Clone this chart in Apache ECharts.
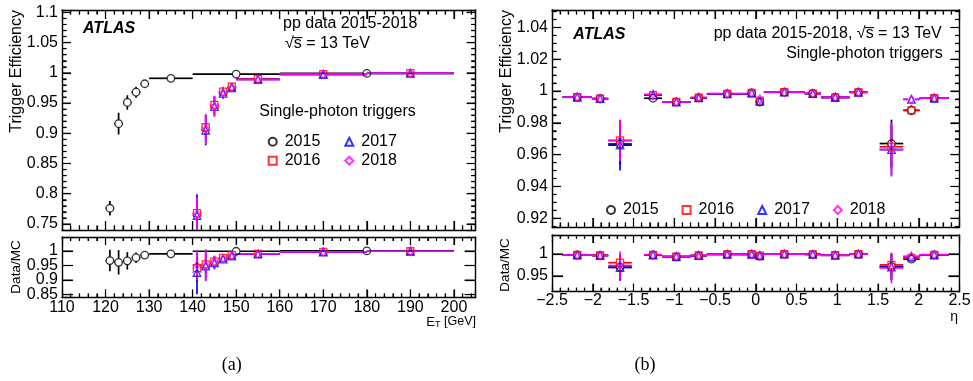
<!DOCTYPE html>
<html><head><meta charset="utf-8">
<script src="https://cdn.jsdelivr.net/npm/echarts@6/dist/echarts.min.js"></script>
<style>html,body{margin:0;padding:0;background:#fff}#c{width:973px;height:381px}</style>
</head><body><div id="c"></div><script>
// ================= DATA =================
// ---- Panel (a): efficiency vs E_T ----
const et2015Center = [121, 123, 125, 127, 129, 135, 150, 180];
const et2015Low    = [120, 122, 124, 126, 128, 130, 140, 160];
const et2015High   = [122, 124, 126, 128, 130, 140, 160, 200];
const eff2015Et    = [0.776, 0.916, 0.951, 0.968, 0.982, 0.991, 0.998, 0.999];
const eff2015EtErr = [0.012, 0.018, 0.012, 0.009, 0.005, 0.002, 0.001, 0.001];
const rat2015Et    = [0.967, 0.961, 0.966, 0.977, 0.986, 0.990, 0.999, 1.000];
const rat2015EtErr = [0.037, 0.042, 0.030, 0.018, 0.010, 0.004, 0.002, 0.001];

const etCenter = [141, 143, 145, 147, 149, 155, 170, 190];
const etLow    = [140, 142, 144, 146, 148, 150, 160, 180];
const etHigh   = [142, 144, 146, 148, 150, 160, 180, 200];
const eff2016Et = [0.768, 0.910, 0.947, 0.969, 0.977, 0.990, 0.998, 0.9995];
const eff2017Et = [0.764, 0.905, 0.944, 0.966, 0.975, 0.989, 0.997, 0.999];
const eff2018Et = [0.766, 0.907, 0.945, 0.967, 0.976, 0.989, 0.998, 0.9995];
const eff2016EtErr = [0.022, 0.020, 0.015, 0.008, 0.006, 0.002, 0.001, 0.001];
const eff2017EtErr = [0.035, 0.025, 0.016, 0.009, 0.006, 0.002, 0.001, 0.001];
const eff2018EtErr = [0.028, 0.025, 0.017, 0.009, 0.006, 0.002, 0.001, 0.001];
const rat2016Et = [0.941, 0.954, 0.963, 0.976, 0.986, 0.990, 0.997, 0.999];
const rat2017Et = [0.926, 0.948, 0.959, 0.972, 0.982, 0.989, 0.996, 0.999];
const rat2018Et = [0.951, 0.951, 0.962, 0.974, 0.984, 0.990, 0.997, 0.999];
const rat2016EtErr = [0.045, 0.035, 0.020, 0.012, 0.008, 0.003, 0.002, 0.001];
const rat2017EtErr = [0.075, 0.050, 0.022, 0.013, 0.008, 0.003, 0.002, 0.001];
const rat2018EtErr = [0.050, 0.055, 0.022, 0.012, 0.008, 0.003, 0.002, 0.001];

// ---- Panel (b): efficiency vs eta ----
const etaLow    = [-2.37, -2.01, -1.81, -1.37, -1.15, -0.8, -0.6, -0.1, 0, 0.1, 0.6, 0.8, 1.15, 1.52, 1.81, 2.01];
const etaHigh   = [-2.01, -1.81, -1.52, -1.15, -0.8, -0.6, -0.1, 0, 0.1, 0.6, 0.8, 1.15, 1.37, 1.81, 2.01, 2.37];
const etaCenter = [-2.19, -1.91, -1.665, -1.26, -0.975, -0.7, -0.35, -0.05, 0.05, 0.35, 0.7, 0.975, 1.26, 1.665, 1.91, 2.19];
const eff2015Eta = [0.9962, 0.9952, 0.9667, 0.9955, 0.9932, 0.9958, 0.9982, 0.9988, 0.9930, 0.9993, 0.9985, 0.9962, 0.9993, 0.9670, 0.9879, 0.9956];
const eff2016Eta = [0.9962, 0.9953, 0.9690, 0.9975, 0.9932, 0.9958, 0.9983, 0.9988, 0.9940, 0.9993, 0.9984, 0.9958, 0.9992, 0.9650, 0.9879, 0.9956];
const eff2017Eta = [0.9961, 0.9952, 0.9660, 0.9975, 0.9930, 0.9957, 0.9983, 0.9988, 0.9935, 0.9993, 0.9984, 0.9960, 0.9992, 0.9632, 0.9948, 0.9955];
const eff2018Eta = [0.9962, 0.9950, 0.9688, 0.9980, 0.9932, 0.9960, 0.9984, 0.9989, 0.9950, 0.9994, 0.9985, 0.9962, 0.9993, 0.9632, 0.9948, 0.9956];
const eff2015EtaErr = [0.0006, 0.0008, 0.013, 0.0008, 0.0006, 0.0006, 0.0004, 0.0006, 0.0008, 0.0004, 0.0005, 0.0005, 0.0006, 0.015, 0.003, 0.0006];
const eff2016EtaErr = [0.0006, 0.0008, 0.012, 0.0008, 0.0006, 0.0006, 0.0004, 0.0006, 0.0008, 0.0004, 0.0005, 0.0005, 0.0006, 0.013, 0.003, 0.0006];
const eff2017EtaErr = [0.0006, 0.0008, 0.016, 0.0008, 0.0006, 0.0006, 0.0004, 0.0006, 0.0008, 0.0004, 0.0005, 0.0005, 0.0006, 0.016, 0.001, 0.0006];
const eff2018EtaErr = [0.0006, 0.0008, 0.013, 0.0008, 0.0006, 0.0006, 0.0004, 0.0006, 0.0008, 0.0004, 0.0005, 0.0005, 0.0006, 0.017, 0.001, 0.0006];
const rat2015Eta = [0.9975, 0.9965, 0.970, 0.9975, 0.994, 0.996, 0.999, 0.9993, 0.995, 0.9995, 0.999, 0.997, 0.9995, 0.971, 0.988, 0.998];
const rat2016Eta = [0.9975, 0.9968, 0.980, 0.998, 0.994, 0.9965, 0.999, 0.9995, 0.996, 0.9995, 0.999, 0.997, 0.9995, 0.975, 0.991, 0.998];
const rat2017Eta = [0.9972, 0.9962, 0.969, 0.9975, 0.9935, 0.996, 0.999, 0.999, 0.9955, 0.9995, 0.999, 0.9968, 0.9995, 0.970, 0.994, 0.9975];
const rat2018Eta = [0.9975, 0.9965, 0.9735, 0.998, 0.994, 0.9965, 0.999, 0.9995, 0.9965, 0.9995, 0.999, 0.997, 0.9995, 0.968, 0.994, 0.998];
const rat2015EtaErr = [0.001, 0.001, 0.030, 0.001, 0.001, 0.001, 0.001, 0.001, 0.001, 0.001, 0.001, 0.001, 0.001, 0.030, 0.008, 0.001];
const rat2016EtaErr = [0.001, 0.001, 0.020, 0.001, 0.001, 0.001, 0.001, 0.001, 0.001, 0.001, 0.001, 0.001, 0.001, 0.025, 0.008, 0.001];
const rat2017EtaErr = [0.001, 0.001, 0.030, 0.001, 0.001, 0.001, 0.001, 0.001, 0.001, 0.001, 0.001, 0.001, 0.001, 0.030, 0.004, 0.001];
const rat2018EtaErr = [0.001, 0.001, 0.032, 0.001, 0.001, 0.001, 0.001, 0.001, 0.001, 0.001, 0.001, 0.001, 0.001, 0.035, 0.004, 0.001];

// ---- tick labels ----
const etTicks      = [110, 120, 130, 140, 150, 160, 170, 180, 190, 200];
const effTicksA    = [0.75, 0.8, 0.85, 0.9, 0.95, 1, 1.05, 1.1];
const ratioTicksA  = [0.85, 0.9, 0.95, 1];
const etaTicks     = [-2.5, -2, -1.5, -1, -0.5, 0, 0.5, 1, 1.5, 2, 2.5];
const effTicksB    = [0.92, 0.94, 0.96, 0.98, 1, 1.02, 1.04];
const ratioTicksB  = [0.95, 1];
const years = ['2015', '2016', '2017', '2018'];

// ================= STYLE / LAYOUT =================
const FONT = 'Liberation Sans, Arial, Helvetica, sans-serif';
const yearStyle = {
  '2015': { color: '#000000', symbol: 'circle', size: 7.5 },
  '2016': { color: '#ff0000', symbol: 'rect', size: 7 },
  '2017': { color: '#0000ff', symbol: 'triangle', size: 7.5 },
  '2018': { color: '#ff00ff', symbol: 'diamond', size: [5.5, 8.5] }
};
function steps(a, b, s) {
  const out = []; const n = Math.round((b - a) / s);
  for (let i = 0; i <= n; i++) out.push(+(a + i * s).toFixed(6));
  return out;
}
const grids = [
  { left: 62, top: 10, width: 413.7, height: 220 },
  { left: 62, top: 237, width: 413.7, height: 60.5 },
  { left: 552, top: 10, width: 407.5, height: 217 },
  { left: 552, top: 235, width: 407.5, height: 56.7 }
];
const axisDefs = [
  { x: { min: 110, max: 205, split: 9, minorSplit: 5, major: etTicks, minor: steps(110, 204, 2), labels: false, majLen: 9, minLen: 4.5 },
    y: { min: 0.74, max: 1.104, split: 7, minorSplit: 5, major: effTicksA, minor: steps(0.74, 1.1, 0.01), labels: true, majLen: 9, minLen: 4.5, margin: 4 } },
  { x: { min: 110, max: 205, split: 9, minorSplit: 5, major: etTicks, minor: steps(110, 204, 2), labels: true, majLen: 8, minLen: 4, margin: 4.5 },
    y: { min: 0.84, max: 1.048, split: 4, minorSplit: 0, major: ratioTicksA, minor: [], labels: true, majLen: 11, minLen: 0, margin: 4 } },
  { x: { min: -2.5, max: 2.5, split: 10, minorSplit: 5, major: etaTicks, minor: steps(-2.5, 2.5, 0.1), labels: false, majLen: 9, minLen: 4.5 },
    y: { min: 0.9145, max: 1.051, split: 7, minorSplit: 4, major: effTicksB, minor: steps(0.915, 1.05, 0.005), labels: true, majLen: 9, minLen: 4.5, margin: 4 } },
  { x: { min: -2.5, max: 2.5, split: 10, minorSplit: 5, major: etaTicks, minor: steps(-2.5, 2.5, 0.1), labels: true, majLen: 8, minLen: 4, margin: 3 },
    y: { min: 0.914, max: 1.043, split: 3, minorSplit: 0, major: ratioTicksB, minor: [], labels: true, majLen: 11, minLen: 0, margin: 4 } }
];
const near = (a, list) => list.some(b => Math.abs(a - b) < 1e-7);

const xAxes = [], yAxes = [], mainX = [], mainY = [];
function mkAxis(gi, pos, r, showLabel) {
  return {
    type: 'value', gridIndex: gi, position: pos, min: r.min, max: r.max, splitNumber: r.split,
    axisLine: { show: true, onZero: false, lineStyle: { color: '#000', width: 1.4 } },
    axisTick: { show: true, inside: true, length: r.majLen, lineStyle: { color: '#000', width: 1.2 } },
    minorTick: { show: r.minorSplit > 0, splitNumber: r.minorSplit || 5, length: r.minLen,
      lineStyle: { color: '#000', width: 1.2 } },
    axisLabel: { show: showLabel, interval: 0, hideOverlap: false, showMinLabel: true, showMaxLabel: true,
      formatter: v => near(v, r.major) ? String(+v.toFixed(4)).replace('-', '\u2212') : '',
      margin: r.margin || 4, color: '#000', fontFamily: FONT, fontSize: 16, lineHeight: 11 },
    splitLine: { show: false }, minorSplitLine: { show: false }, axisPointer: { show: false }
  };
}
axisDefs.forEach((d, gi) => {
  mainX.push(xAxes.length);
  xAxes.push(mkAxis(gi, 'bottom', d.x, d.x.labels));
  xAxes.push(mkAxis(gi, 'top', d.x, false));
  mainY.push(yAxes.length);
  yAxes.push(mkAxis(gi, 'left', d.y, d.y.labels));
  yAxes.push(mkAxis(gi, 'right', d.y, false));
});

const series = [];
// ---- frame ticks drawn through the axes' own scales (rect marks) ----
axisDefs.forEach((d, gi) => {
  const items = [];
  d.x.major.forEach(v => items.push([0, v, d.x.majLen]));
  d.x.minor.filter(v => !near(v, d.x.major)).forEach(v => items.push([0, v, d.x.minLen]));
  d.y.major.forEach(v => items.push([1, v, d.y.majLen]));
  d.y.minor.filter(v => !near(v, d.y.major)).forEach(v => items.push([1, v, d.y.minLen]));
  series.push({
    type: 'custom', name: 'ticks' + gi, xAxisIndex: mainX[gi], yAxisIndex: mainY[gi], silent: true,
    clip: false, z: 5,
    renderItem: function (params, api) {
      const cs = params.coordSys;
      const kind = api.value(0), v = api.value(1), len = api.value(2);
      const st = { fill: '#000' };
      if (kind === 0) {
        const px = api.coord([v, d.y.min])[0];
        if (px < cs.x + 1 || px > cs.x + cs.width - 1) return null;
        return { type: 'group', children: [
          { type: 'rect', shape: { x: px - 0.5, y: cs.y + cs.height - len, width: 1, height: len }, style: st },
          { type: 'rect', shape: { x: px - 0.5, y: cs.y, width: 1, height: len }, style: st } ] };
      }
      const py = api.coord([d.x.min, v])[1];
      if (py < cs.y + 1 || py > cs.y + cs.height - 1) return null;
      return { type: 'group', children: [
        { type: 'rect', shape: { x: cs.x, y: py - 0.5, width: len, height: 1 }, style: st },
        { type: 'rect', shape: { x: cs.x + cs.width - len, y: py - 0.5, width: len, height: 1 }, style: st } ] };
    },
    data: items
  });
});

function errRender(color, gap) {
  return function (params, api) {
    const cs = params.coordSys;
    const X0 = cs.x, X1 = cs.x + cs.width, Y0 = cs.y, Y1 = cs.y + cs.height;
    const cx = api.value(0), lo = api.value(1), hi = api.value(2), v = api.value(3), e = api.value(4);
    const c = api.coord([cx, v]);
    const L = Math.max(X0, api.coord([lo, v])[0]), R = Math.min(X1, api.coord([hi, v])[0]);
    const T = Math.max(Y0, api.coord([cx, v + e])[1]), B = Math.min(Y1, api.coord([cx, v - e])[1]);
    const segs = [];
    if (c[0] - gap > L) segs.push([L, c[1], c[0] - gap, c[1]]);
    if (R > c[0] + gap) segs.push([c[0] + gap, c[1], R, c[1]]);
    if (c[1] - gap > T) segs.push([c[0], T, c[0], c[1] - gap]);
    if (B > c[1] + gap) segs.push([c[0], c[1] + gap, c[0], B]);
    return { type: 'group', children: segs.map(s => ({
      type: 'line', shape: { x1: s[0], y1: s[1], x2: s[2], y2: s[3] },
      style: { stroke: color, lineWidth: 1.7 } })) };
  };
}
function addYear(gi, year, centers, lows, highs, vals, errs) {
  const st = yearStyle[year];
  series.push({
    type: 'custom', name: year + ' err', xAxisIndex: mainX[gi], yAxisIndex: mainY[gi], silent: true,
    renderItem: errRender(st.color, 3.8), encode: { x: 0, y: 3 },
    data: centers.map((c, i) => [c, lows[i], highs[i], vals[i], errs[i]])
  });
  series.push({
    type: 'scatter', name: year, xAxisIndex: mainX[gi], yAxisIndex: mainY[gi], silent: true,
    symbol: st.symbol, symbolSize: st.size,
    itemStyle: { color: 'rgba(255,255,255,0)', borderColor: st.color, borderWidth: 1.3 },
    emphasis: { disabled: true },
    data: centers.map((c, i) => [c, vals[i]])
  });
}
// Panel (a)
addYear(0, '2015', et2015Center, et2015Low, et2015High, eff2015Et, eff2015EtErr);
addYear(0, '2016', etCenter, etLow, etHigh, eff2016Et, eff2016EtErr);
addYear(0, '2017', etCenter, etLow, etHigh, eff2017Et, eff2017EtErr);
addYear(0, '2018', etCenter, etLow, etHigh, eff2018Et, eff2018EtErr);
addYear(1, '2015', et2015Center, et2015Low, et2015High, rat2015Et, rat2015EtErr);
addYear(1, '2016', etCenter, etLow, etHigh, rat2016Et, rat2016EtErr);
addYear(1, '2017', etCenter, etLow, etHigh, rat2017Et, rat2017EtErr);
addYear(1, '2018', etCenter, etLow, etHigh, rat2018Et, rat2018EtErr);
// Panel (b)
addYear(2, '2015', etaCenter, etaLow, etaHigh, eff2015Eta, eff2015EtaErr);
addYear(2, '2016', etaCenter, etaLow, etaHigh, eff2016Eta, eff2016EtaErr);
addYear(2, '2017', etaCenter, etaLow, etaHigh, eff2017Eta, eff2017EtaErr);
addYear(2, '2018', etaCenter, etaLow, etaHigh, eff2018Eta, eff2018EtaErr);
addYear(3, '2015', etaCenter, etaLow, etaHigh, rat2015Eta, rat2015EtaErr);
addYear(3, '2016', etaCenter, etaLow, etaHigh, rat2016Eta, rat2016EtaErr);
addYear(3, '2017', etaCenter, etaLow, etaHigh, rat2017Eta, rat2017EtaErr);
addYear(3, '2018', etaCenter, etaLow, etaHigh, rat2018Eta, rat2018EtaErr);

const legendCommon = {
  itemWidth: 8, itemHeight: 8, padding: 0, selectedMode: false,
  textStyle: { fontFamily: FONT, fontSize: 16, color: '#000', lineHeight: 16, padding: [0, 0, 0, 3] }
};
function txt(x, y, text, opts) {
  return { type: 'text', x: x, y: y, silent: true,
    style: Object.assign({ text: text, fill: '#000', font: '16px ' + FONT, align: 'left', verticalAlign: 'middle' }, opts || {}) };
}
function rtxt(x, y, text, align, size) {
  return { type: 'text', x: x, y: y, rotation: Math.PI / 2, silent: true,
    style: { text: text, fill: '#000', font: (size || 16) + 'px ' + FONT, align: align, verticalAlign: 'middle' } };
}

const chart = echarts.init(document.getElementById('c'), null, { renderer: 'canvas' });
chart.setOption({
  animation: false,
  backgroundColor: '#fff',
  grid: grids.map(g => Object.assign({ outerBoundsMode: 'none', containLabel: false }, g)),
  xAxis: xAxes,
  yAxis: yAxes,
  legend: [
    Object.assign({ data: ['2015', '2016'], orient: 'vertical', left: 267.7, top: 133.7, itemGap: 3 }, legendCommon),
    Object.assign({ data: ['2017', '2018'], orient: 'vertical', left: 344.3, top: 133.7, itemGap: 3 }, legendCommon),
    Object.assign({ data: years, orient: 'horizontal', left: 606, top: 202, itemGap: 23 }, legendCommon)
  ],
  graphic: [
    txt(83, 29, 'ATLAS', { font: 'italic bold 16px ' + FONT }),
    txt(283, 23.5, 'pp data 2015-2018'),
    txt(285, 43.5, '\u221As\u0305 = 13 TeV'),
    txt(259.3, 111.7, 'Single-photon triggers'),
    txt(573.3, 35, 'ATLAS', { font: 'italic bold 16px ' + FONT }),
    txt(941.7, 34, 'pp data 2015-2018, \u221As\u0305 = 13 TeV', { align: 'right' }),
    txt(942.7, 53.3, 'Single-photon triggers', { align: 'right' }),
    rtxt(16.7, 10, 'Trigger Efficiency', 'right', 16),
    rtxt(16.7, 267, 'Data/MC', 'center', 13.5),
    rtxt(506.7, 10, 'Trigger Efficiency', 'right', 16),
    rtxt(505, 265, 'Data/MC', 'center', 13.5),
    txt(476, 322, '[GeV]', { align: 'right', font: '12.5px ' + FONT }),
    txt(435, 325, 'T', { font: '9px ' + FONT }),
    txt(435, 322, 'E', { align: 'right', font: '13px ' + FONT }),
    txt(958, 317, '\u03B7', { align: 'right', font: '14px ' + FONT }),
    txt(231.7, 365, '(a)', { align: 'center', font: '18px Liberation Serif, DejaVu Serif, serif' }),
    txt(645, 365, '(b)', { align: 'center', font: '18px Liberation Serif, DejaVu Serif, serif' })
  ],
  series: series
});
</script></body></html>
